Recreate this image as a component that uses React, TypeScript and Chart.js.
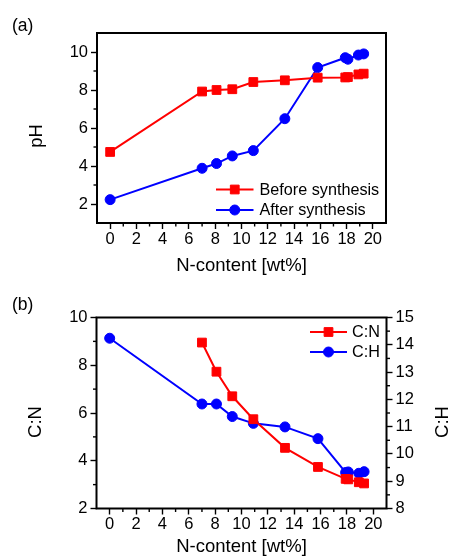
import React, { useEffect, useRef } from 'react';
import { Chart, registerables } from 'chart.js';

Chart.register(...registerables);

// ---------- data ----------
const nContent = [0, 7.0, 8.1, 9.3, 10.9, 13.3, 15.8, 17.9, 18.1, 18.9, 19.3];
const phBefore = [4.74, 7.92, 8.0, 8.04, 8.42, 8.51, 8.65, 8.66, 8.68, 8.82, 8.86];
const phAfter = [2.23, 3.88, 4.13, 4.53, 4.81, 6.49, 9.18, 9.7, 9.62, 9.84, 9.9];

const nContentCN = [7.0, 8.1, 9.3, 10.9, 13.3, 15.8, 17.9, 18.1, 18.9, 19.3];
const ratioCN = [8.95, 7.73, 6.7, 5.74, 4.54, 3.74, 3.24, 3.22, 3.1, 3.05];
const ratioCH = [14.24, 11.83, 11.83, 11.37, 11.12, 10.99, 10.56, 9.32, 9.34, 9.29, 9.35];

const xTicks = [0, 2, 4, 6, 8, 10, 12, 14, 16, 18, 20];
const xMinorTicks = [1, 3, 5, 7, 9, 11, 13, 15, 17, 19];
const phTicks = [2, 4, 6, 8, 10];
const phMinorTicks = [3, 5, 7, 9];
const cnTicks = [2, 4, 6, 8, 10];
const cnMinorTicks = [3, 5, 7, 9];
const chTicks = [8, 9, 10, 11, 12, 13, 14, 15];
const chMinorTicks = [8.5, 9.5, 10.5, 11.5, 12.5, 13.5, 14.5];

const labelsA = ['Before synthesis', 'After synthesis'];
const labelsB = ['C:N', 'C:H'];

const FONT = "'Liberation Sans', Arial, Helvetica, sans-serif";
const RED = '#ff0000';
const BLUE = '#0000ff';

const W = 453;
const H = 278;

const toPoints = (xs: number[], ys: number[]) => xs.map((x, i) => ({ x, y: ys[i] }));

// ---------- plugins ----------
const framePlugin = {
  id: 'frameMinor',
  afterDraw(chart: any, _args: any, opts: any) {
    const { ctx, chartArea } = chart;
    const { left, right, top, bottom } = chartArea;
    ctx.save();
    ctx.strokeStyle = '#000';
    ctx.lineWidth = 2;
    ctx.strokeRect(left, top, right - left, bottom - top);
    ctx.lineWidth = 1.4;
    const minor = opts.minor || {};
    Object.keys(minor).forEach((id) => {
      const scale = chart.scales[id];
      if (!scale) return;
      (minor[id] as number[]).forEach((v) => {
        const p = scale.getPixelForValue(v);
        ctx.beginPath();
        if (scale.position === 'bottom') {
          ctx.moveTo(p, bottom);
          ctx.lineTo(p, bottom + 3.5);
        } else if (scale.position === 'left') {
          ctx.moveTo(left, p);
          ctx.lineTo(left - 3.5, p);
        } else if (scale.position === 'right') {
          ctx.moveTo(right, p);
          ctx.lineTo(right + 3.5, p);
        }
        ctx.stroke();
      });
    });
    ctx.restore();
  },
};

const sideTitlePlugin = {
  id: 'sideTitles',
  afterDraw(chart: any, _args: any, opts: any) {
    const { ctx } = chart;
    (opts.items || []).forEach((t: any) => {
      ctx.save();
      ctx.font = `${t.size}px ${FONT}`;
      ctx.fillStyle = '#000';
      ctx.textAlign = 'center';
      ctx.textBaseline = 'middle';
      ctx.translate(t.x, t.y);
      ctx.rotate(-Math.PI / 2);
      ctx.fillText(t.text, 0, 0);
      ctx.restore();
    });
  },
};

const insideLegendPlugin = {
  id: 'insideLegend',
  afterDraw(chart: any, _args: any, opts: any) {
    const { ctx } = chart;
    ctx.save();
    ctx.font = `${opts.size}px ${FONT}`;
    ctx.textAlign = 'left';
    ctx.textBaseline = 'middle';
    chart.data.datasets.forEach((ds: any, i: number) => {
      const y = opts.y + i * opts.rowGap;
      const x0 = opts.x;
      const x1 = opts.x + opts.lineLen;
      ctx.strokeStyle = ds.borderColor;
      ctx.lineWidth = ds.borderWidth;
      ctx.beginPath();
      ctx.moveTo(x0, y);
      ctx.lineTo(x1, y);
      ctx.stroke();
      const cx = (x0 + x1) / 2;
      const r = ds.pointRadius;
      ctx.fillStyle = ds.pointBackgroundColor;
      ctx.strokeStyle = ds.pointBorderColor;
      ctx.lineWidth = ds.pointBorderWidth;
      ctx.beginPath();
      if (ds.pointStyle === 'rect') {
        const s = r * Math.SQRT1_2;
        ctx.rect(cx - s, y - s, 2 * s, 2 * s);
      } else {
        ctx.arc(cx, y, r, 0, Math.PI * 2);
      }
      ctx.fill();
      ctx.stroke();
      ctx.fillStyle = '#000';
      ctx.fillText(ds.label, x1 + opts.textGap, y + 1);
    });
    ctx.restore();
  },
};

const tickFont = { family: FONT, size: 16.5 };

const fixedTicks = (vals: number[]) => (scale: any) => {
  scale.ticks = vals.map((v) => ({ value: v }));
};

const xScale = (height: number, titlePadBottom: number) => ({
  type: 'linear',
  position: 'bottom',
  min: -1,
  max: 21,
  afterBuildTicks: fixedTicks(xTicks),
  afterFit: (s: any) => {
    s.height = height;
  },
  border: { display: false },
  grid: { drawOnChartArea: false, tickLength: 6, tickWidth: 1.4, tickColor: '#000' },
  ticks: { color: '#000', font: tickFont, padding: 0.5, maxRotation: 0, autoSkip: false },
  title: {
    display: true,
    text: 'N-content [wt%]',
    color: '#000',
    font: { family: FONT, size: 18.5, lineHeight: 1 },
    padding: { top: 0, bottom: titlePadBottom },
  },
});

const yScale = (
  position: 'left' | 'right',
  min: number,
  max: number,
  ticks: number[],
  width: number
) => ({
  type: 'linear',
  position,
  min,
  max,
  afterBuildTicks: fixedTicks(ticks),
  afterFit: (s: any) => {
    s.width = width;
  },
  border: { display: false },
  grid: { drawOnChartArea: false, tickLength: 6, tickWidth: 1.4, tickColor: '#000' },
  ticks: { color: '#000', font: tickFont, padding: 3, autoSkip: false },
});

const lineDs = (label: string, data: any[], color: string, style: string, radius: number, yAxisID: string) => ({
  label,
  data,
  borderColor: color,
  backgroundColor: color,
  borderWidth: 2,
  pointStyle: style,
  pointRadius: radius,
  pointBackgroundColor: color,
  pointBorderColor: color,
  pointBorderWidth: 1,
  tension: 0,
  fill: false,
  yAxisID,
  clip: false,
});

function PanelA() {
  const ref = useRef<HTMLCanvasElement>(null);
  useEffect(() => {
    const chart = new Chart(ref.current as HTMLCanvasElement, {
      type: 'line',
      data: {
        datasets: [
          lineDs(labelsA[0], toPoints(nContent, phBefore), RED, 'rect', 6.2, 'y'),
          lineDs(labelsA[1], toPoints(nContent, phAfter), BLUE, 'circle', 5, 'y'),
        ],
      },
      options: {
        responsive: false,
        animation: false,
        devicePixelRatio: 1,
        events: [],
        layout: { padding: { top: 33, right: 67, left: 0, bottom: 0 } },
        scales: {
          x: xScale(55, 2.5),
          y: yScale('left', 1, 11, phTicks, 97),
        } as any,
        plugins: {
          legend: { display: false },
          tooltip: { enabled: false },
          frameMinor: { minor: { x: xMinorTicks, y: phMinorTicks } },
          sideTitles: { items: [{ text: 'pH', x: 37, y: 136, size: 18.5 }] },
          insideLegend: { x: 216, y: 189.5, rowGap: 20.5, lineLen: 37.5, textGap: 6, size: 16.2 },
        } as any,
      },
      plugins: [framePlugin, sideTitlePlugin, insideLegendPlugin],
    } as any);
    return () => chart.destroy();
  }, []);
  return <canvas ref={ref} width={W} height={H} style={{ display: 'block', width: W, height: H }} />;
}

function PanelB() {
  const ref = useRef<HTMLCanvasElement>(null);
  useEffect(() => {
    const chart = new Chart(ref.current as HTMLCanvasElement, {
      type: 'line',
      data: {
        datasets: [
          lineDs(labelsB[0], toPoints(nContentCN, ratioCN), RED, 'rect', 6.2, 'y'),
          lineDs(labelsB[1], toPoints(nContent, ratioCH), BLUE, 'circle', 5, 'y1'),
        ],
      },
      options: {
        responsive: false,
        animation: false,
        devicePixelRatio: 1,
        events: [],
        layout: { padding: { top: 39.5, right: 0, left: 0, bottom: 0 } },
        scales: {
          x: xScale(47.5, 0),
          y: yScale('left', 2, 10, cnTicks, 96.5),
          y1: yScale('right', 8, 15, chTicks, 66.5),
        } as any,
        plugins: {
          legend: { display: false },
          tooltip: { enabled: false },
          frameMinor: { minor: { x: xMinorTicks, y: cnMinorTicks, y1: chMinorTicks } },
          sideTitles: {
            items: [
              { text: 'C:N', x: 36, y: 144, size: 18.5 },
              { text: 'C:H', x: 443, y: 144, size: 18.5 },
            ],
          },
          insideLegend: { x: 310, y: 54, rowGap: 20, lineLen: 37, textGap: 5, size: 16.2 },
        } as any,
      },
      plugins: [framePlugin, sideTitlePlugin, insideLegendPlugin],
    } as any);
    return () => chart.destroy();
  }, []);
  return <canvas ref={ref} width={W} height={H} style={{ display: 'block', width: W, height: H }} />;
}

export default function App() {
  const panelLabel: React.CSSProperties = {
    position: 'absolute',
    left: 12,
    fontFamily: FONT,
    fontSize: 17.5,
    lineHeight: '18px',
    color: '#000',
  };
  return (
    <div
      style={{
        position: 'fixed',
        left: 0,
        top: 0,
        width: W,
        height: 556,
        background: '#fff',
        overflow: 'hidden',
      }}
    >
      <div style={{ position: 'absolute', left: 0, top: 0, width: W, height: H }}>
        <PanelA />
      </div>
      <div style={{ position: 'absolute', left: 0, top: H, width: W, height: H }}>
        <PanelB />
      </div>
      <div style={{ ...panelLabel, top: 16 }}>(a)</div>
      <div style={{ ...panelLabel, top: 295 }}>(b)</div>
    </div>
  );
}
